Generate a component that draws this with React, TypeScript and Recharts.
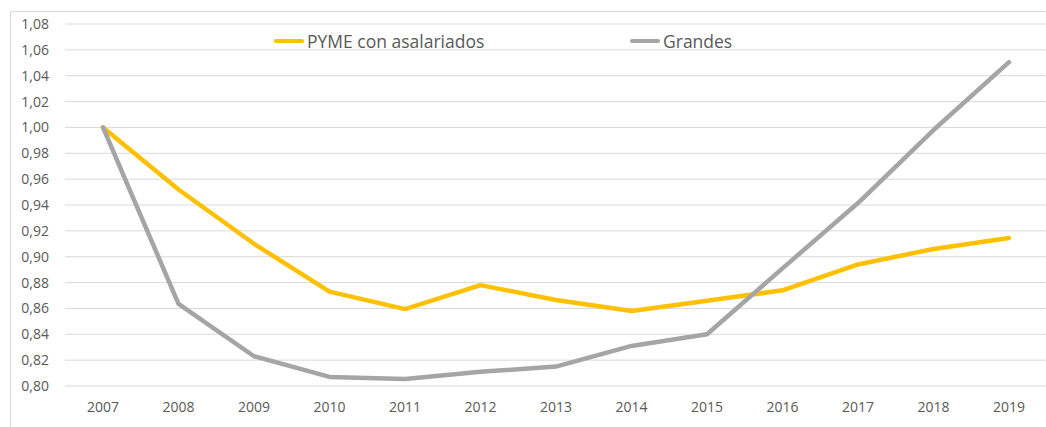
import { CartesianGrid, Line, LineChart, XAxis, YAxis } from "recharts";

const years = ["2007", "2008", "2009", "2010", "2011", "2012", "2013", "2014", "2015", "2016", "2017", "2018", "2019"];
const pyme = [1.0, 0.952, 0.91, 0.873, 0.8595, 0.878, 0.8665, 0.858, 0.866, 0.874, 0.894, 0.906, 0.9145];
const grandes = [1.0, 0.8635, 0.823, 0.807, 0.8055, 0.811, 0.815, 0.831, 0.840, 0.891, 0.9415, 0.998, 1.0505];
const yTicks = [0.8, 0.82, 0.84, 0.86, 0.88, 0.9, 0.92, 0.94, 0.96, 0.98, 1.0, 1.02, 1.04, 1.06, 1.08];

const series = [
  { key: "pyme", name: "PYME con asalariados", color: "#FFC000" },
  { key: "grandes", name: "Grandes", color: "#A5A5A5" },
];

const data = years.map((year, i) => ({ year, pyme: pyme[i], grandes: grandes[i] }));

const font = "'Open Sans', sans-serif";
const fmt = (v: number) => v.toFixed(2).replace(".", ",");

export default function App() {
  return (
    <div style={{ position: "absolute", left: 0, top: 0, width: 1046, height: 427, overflow: "hidden", background: "#fff", fontFamily: font }}>
      <div style={{ position: "absolute", left: 10, top: 11, width: 1100, height: 500, border: "1px solid #D9D9D9" }} />
      <LineChart width={1046} height={427} data={data} margin={{ top: 24, right: 0, bottom: 0, left: 0 }}>
        <CartesianGrid vertical={false} stroke="#D9D9D9" strokeWidth={1} />
        <XAxis
          dataKey="year"
          height={41}
          axisLine={false}
          tickLine={false}
          tickMargin={10}
          interval={0}
          padding={{ left: 38, right: 37 }}
          tick={{ fill: "#595959", fontSize: 14, fontFamily: font }}
        />
        <YAxis
          width={65}
          domain={[0.8, 1.08]}
          ticks={yTicks}
          axisLine={false}
          tickLine={false}
          tickMargin={10}
          tickFormatter={fmt}
          tick={{ fill: "#595959", fontSize: 14, fontFamily: font }}
        />
        {series.map((s) => (
          <Line
            key={s.key}
            dataKey={s.key}
            name={s.name}
            type="linear"
            stroke={s.color}
            strokeWidth={4.5}
            strokeLinecap="round"
            strokeLinejoin="round"
            dot={false}
            isAnimationActive={false}
          />
        ))}
      </LineChart>
      {series.map((s, i) => (
        <div
          key={s.key}
          style={{ position: "absolute", top: 29, left: i === 0 ? 274 : 630, display: "flex", alignItems: "center", color: "#595959", fontSize: 17.5, lineHeight: "24px" }}
        >
          <span style={{ display: "inline-block", width: 30, height: 4.5, borderRadius: 2, background: s.color, marginRight: 3 }} />
          {s.name}
        </div>
      ))}
    </div>
  );
}
